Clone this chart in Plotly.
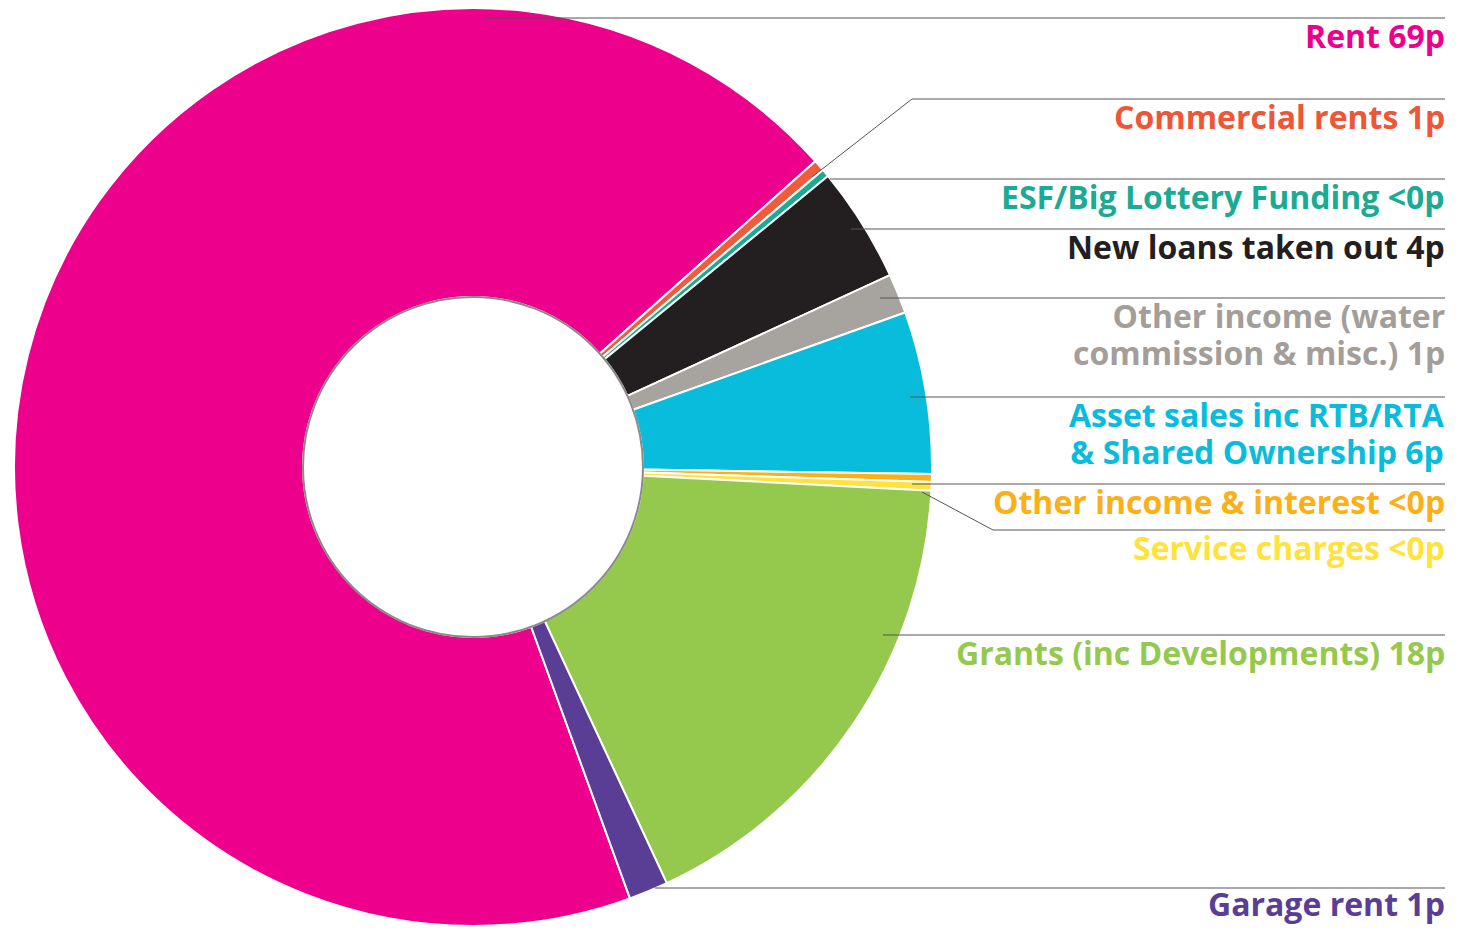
import plotly.graph_objects as go

# ---------------- data ----------------
categories = ["Rent", "Commercial rents", "ESF/Big Lottery Funding", "New loans taken out",
              "Other income (water commission & misc.)", "Asset sales inc RTB/RTA & Shared Ownership",
              "Other income & interest", "Service charges", "Grants (inc Developments)", "Garage rent"]
values = [68.95, 0.40, 0.28, 4.06, 1.40, 5.71, 0.28, 0.30, 17.24, 1.38]
value_labels = ["69p", "1p", "<0p", "4p", "1p", "6p", "<0p", "<0p", "18p", "1p"]
label_lines = [
    ["Rent 69p"],
    ["Commercial rents 1p"],
    ["ESF/Big Lottery Funding <0p"],
    ["New loans taken out 4p"],
    ["Other income (water", "commission & misc.) 1p"],
    ["Asset sales inc RTB/RTA", "& Shared Ownership 6p"],
    ["Other income & interest <0p"],
    ["Service charges <0p"],
    ["Grants (inc Developments) 18p"],
    ["Garage rent 1p"],
]

# ---------------- style ----------------
slice_colors = ["#EC008C", "#F15A3A", "#1BAA93", "#231F20", "#A7A39F",
                "#09BCDB", "#FBB017", "#FFE23C", "#95C94E", "#5A3E96"]
text_colors = ["#EC008C", "#EF5537", "#1BAA93", "#231F20", "#A39E99",
               "#09BCDB", "#FBB017", "#FFE33B", "#95C94E", "#5A3E96"]

# page body has an 8px default margin; figure sized to fit the 1463x934 window
OFF = 8
W, H = 1463 - 2 * OFF, 934 - 2 * OFF

def px_x(sx):
    return (sx - OFF) / W

def px_y(sy):
    return 1 - (sy - OFF) / H

R = H / 2
CX = 473
CY = OFF + R
RH = 170
RIGHT = 1445
FONT = "Open Sans"
FS = 32
LINE_GAP = 37
HALF_BOX = 0.681 * FS  # half of the text box height for this font

# leader line layout (screen pixel polyline points)
leaders = [
    [(485, 18), (RIGHT, 18)],
    [(812, 177), (912, 99), (RIGHT, 99)],
    [(830, 179), (RIGHT, 179)],
    [(851, 229), (RIGHT, 229)],
    [(880, 298), (RIGHT, 298)],
    [(910, 397), (RIGHT, 397)],
    [(912, 484), (RIGHT, 484)],
    [(922, 492), (993, 530), (RIGHT, 530)],
    [(883, 635), (RIGHT, 635)],
    [(655, 888), (RIGHT, 888)],
]

fig = go.Figure()
fig.add_trace(go.Pie(
    labels=categories,
    values=values,
    sort=False,
    direction="clockwise",
    rotation=160,
    hole=RH / R,
    marker=dict(colors=slice_colors, line=dict(color="white", width=2)),
    textinfo="none",
    hoverinfo="label+value",
    showlegend=False,
    domain=dict(x=[px_x(CX - R), px_x(CX + R)], y=[0, 1]),
))

shapes = []
shapes.append(dict(type="circle", xref="paper", yref="paper",
                   x0=px_x(CX - RH), x1=px_x(CX + RH),
                   y0=px_y(CY + RH), y1=px_y(CY - RH),
                   line=dict(color="#8a8a8a", width=2), layer="above"))
for pts in leaders:
    path = "M " + " L ".join(f"{px_x(x)},{px_y(y)}" for x, y in pts)
    shapes.append(dict(type="path", xref="paper", yref="paper", path=path,
                       line=dict(color="#555555", width=1), layer="above"))

annotations = []
for i, lines in enumerate(label_lines):
    rule_y = leaders[i][-1][1]
    n = len(lines)
    if n == 1:
        text = lines[0]
        base_size = FS
    else:
        # line spacing in plotly is 1.3em of the base size; wrap lines in spans at FS
        text = "<br>".join(f'<span style="font-size:{FS}px">{t}</span>' for t in lines)
        base_size = LINE_GAP / 1.3
    cy = rule_y + 18.5 + (n - 1) * LINE_GAP / 2 - 1
    bottom_limit = OFF + H
    if cy + HALF_BOX + (n - 1) * LINE_GAP / 2 > bottom_limit:
        y, yanchor = 0, "bottom"
    else:
        y, yanchor = px_y(cy), "middle"
    annotations.append(dict(
        text=text, xref="paper", yref="paper",
        x=px_x(RIGHT + 1), y=y, xanchor="right", yanchor=yanchor,
        align="right", showarrow=False, borderpad=0,
        font=dict(family=FONT, size=base_size, color=text_colors[i], weight=700),
    ))

fig.update_layout(
    width=W, height=H,
    margin=dict(l=0, r=0, t=0, b=0),
    paper_bgcolor="white", plot_bgcolor="white",
    shapes=shapes, annotations=annotations,
)

fig.write_html("out.html")
